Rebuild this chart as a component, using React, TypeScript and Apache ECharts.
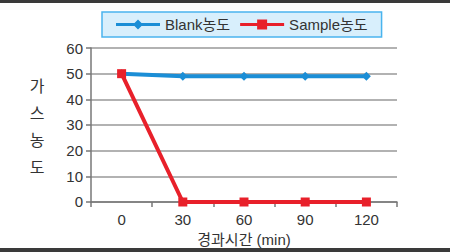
import React, { useEffect, useRef } from "react";
import * as echarts from "echarts";

const categories = ["0", "30", "60", "90", "120"];
const blankValues = [50, 49, 49, 49, 49];
const sampleValues = [50, 0, 0, 0, 0];
const yTicks = { min: 0, max: 60, interval: 10 };

const FONT = "'Liberation Sans', 'Noto Sans CJK KR', sans-serif";

const BLANK_ICON =
  "path://M0,4.5H18.5L22,1L25.5,4.5H44V7.5H25.5L22,11L18.5,7.5H0Z";
const SAMPLE_ICON = "path://M0,4.5H17V1H27V4.5H44V7.5H27V11H17V7.5H0Z";

export default function App() {
  const ref = useRef<HTMLDivElement>(null);
  useEffect(() => {
    document.body.style.margin = "0";
    const chart = echarts.init(ref.current!, null, { renderer: "svg" });
    chart.setOption({
      animation: false,
      backgroundColor: "#ffffff",
      textStyle: { fontFamily: FONT },
      grid: { left: 91, right: 53, top: 48, bottom: 50, containLabel: false },
      legend: {
        top: 12,
        left: 102,
        width: 280,
        padding: [5, 14, 5, 14],
        itemGap: 10,
        itemWidth: 44,
        itemHeight: 10,
        backgroundColor: "#d8effc",
        borderColor: "#49b4ee",
        borderWidth: 1.5,
        borderRadius: 0,
        textStyle: { fontSize: 15, color: "#333", fontFamily: FONT },
        data: [
          { name: "Blank농도", icon: BLANK_ICON },
          { name: "Sample농도", icon: SAMPLE_ICON },
        ],
      },
      xAxis: {
        type: "category",
        data: categories,
        boundaryGap: true,
        axisLine: { lineStyle: { color: "#777", width: 1.5 } },
        axisTick: { show: true, length: 5, lineStyle: { color: "#777", width: 1.5 } },
        axisLabel: { fontSize: 15, color: "#333", margin: 10, fontFamily: FONT },
        name: "경과시간 (min)",
        nameLocation: "middle",
        nameGap: 30,
        nameTextStyle: { fontSize: 15, color: "#333", fontFamily: FONT },
      },
      yAxis: {
        type: "value",
        min: yTicks.min,
        max: yTicks.max,
        interval: yTicks.interval,
        axisLine: { show: true, lineStyle: { color: "#777", width: 1.5 } },
        axisTick: { show: true, length: 5, lineStyle: { color: "#777", width: 1.5 } },
        axisLabel: { fontSize: 15, color: "#333", margin: 8, fontFamily: FONT },
        splitLine: { show: true, lineStyle: { color: "#999", width: 1.5 } },
      },
      series: [
        {
          name: "Blank농도",
          type: "line",
          data: blankValues,
          symbol: "diamond",
          symbolSize: 9,
          color: "#1b8ed6",
          lineStyle: { width: 4, color: "#1b8ed6" },
          itemStyle: { color: "#1b8ed6" },
          z: 2,
        },
        {
          name: "Sample농도",
          type: "line",
          data: sampleValues,
          symbol: "rect",
          symbolSize: 9,
          color: "#e8202a",
          lineStyle: { width: 4, color: "#e8202a" },
          itemStyle: { color: "#e8202a" },
          z: 3,
        },
      ],
      graphic: [
        {
          type: "rect",
          left: 0,
          top: 0,
          shape: { width: 450, height: 3 },
          style: { fill: "#3a3a3a" },
        },
        {
          type: "rect",
          left: 0,
          top: 248,
          shape: { width: 450, height: 4 },
          style: { fill: "#3a3a3a" },
        },
        {
          type: "text",
          x: 37,
          y: 127,
          style: {
            text: "가\n스\n농\n도",
            fontSize: 16,
            lineHeight: 27,
            fill: "#333",
            fontFamily: FONT,
            align: "center",
            verticalAlign: "middle",
          },
        },
      ],
    });
    return () => chart.dispose();
  }, []);
  return (
    <div
      ref={ref}
      style={{ position: "absolute", left: 0, top: 0, width: 450, height: 252 }}
    />
  );
}
